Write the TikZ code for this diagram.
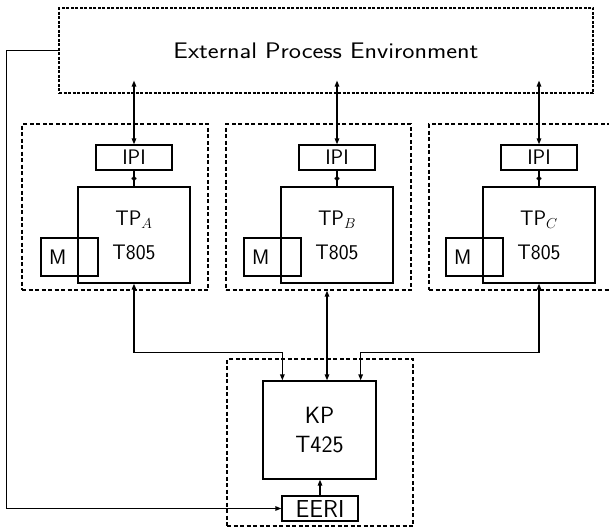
\documentclass[tikz,border=0pt]{standalone}
\usepackage{fontspec}
\usepackage{graphicx}
\usetikzlibrary{arrows.meta,calc}
\tikzset{
  every node/.style={font=\sffamily\fontsize{21}{34}\selectfont},
  box/.style={draw, line width=1.3pt, inner sep=0pt, align=center},
  mbox/.style={draw, line width=1.3pt, inner ysep=0pt, inner xsep=8pt, text width=41pt, align=left, minimum height=38pt},
  cluster/.style={draw, line width=1.1pt, dash pattern=on 4pt off 2.5pt, inner sep=0pt},
  envbox/.style={draw, line width=1.1pt, dash pattern=on 3pt off 1.5pt, inner sep=0pt},
  conn/.style={line width=1.3pt},
  ptr/.tip={Triangle[length=6pt,width=4.5pt]},
  arr/.style={conn,-ptr},
  dbl/.style={conn,ptr-ptr},
  diam/.style={conn,{Triangle[length=4pt,width=5pt]}-{Triangle[length=4pt,width=5pt]},shorten <=4.5pt,shorten >=4.5pt},
}
\begin{document}
\begin{tikzpicture}[x=1pt,y=-1pt]
\useasboundingbox (0,0) rectangle (609,527);
% clusters
\node[cluster, minimum width=186pt, minimum height=166pt] (CA) at (115,207) {};
\node[cluster, minimum width=185pt, minimum height=166pt] (CB) at (318.5,207) {};
\node[cluster, minimum width=190pt, minimum height=166pt] (CC) at (524,207) {};
\node[cluster, minimum width=186pt, minimum height=167pt] (CK) at (320,442.5) {};
% environment
\node[envbox, minimum width=534pt, minimum height=85pt, font=\sffamily\fontsize{22.5}{26}\selectfont] (EPE) at (326,50.5) {\scalebox{1.15}[1]{External Process Environment}};
% transputer groups
\foreach \n/\dx in {A/0,B/203,C/405}{
  \node[box, minimum width=76pt, minimum height=25pt] (IPI\n) at (134+\dx,157.5) {IPI};
  \node[box, minimum width=112pt, minimum height=96pt] (TP\n) at (134+\dx,235) {TP$_{\n}$\\T805};
  \node[mbox] (M\n) at (69.5+\dx,257) {M};
  \draw[dbl] ($(EPE.south -| IPI\n)+(0,-13)$) -- (IPI\n.north);
  \draw[conn] (IPI\n.south) -- (TP\n.north);
  \draw[diam] (IPI\n.south) -- (TP\n.north);
}
% kernel processor
\node[box, minimum width=113pt, minimum height=98pt, font=\sffamily\fontsize{23.5}{29}\selectfont] (KP) at (319.5,430) {KP\\T425};
\node[box, minimum width=76pt, minimum height=25pt, font=\sffamily\fontsize{24.5}{28}\selectfont] (EERI) at (320,508.5) {EERI};
\coordinate (kA) at ($(KP.north west)+(20,0)$);
\coordinate (kC) at ($(KP.north east)+(-16,0)$);
\coordinate (bB) at ($(TPB.south)+(-10,7)$);
\draw[dbl] (TPA.south) -- ++(0,69) -| (kA);
\draw[dbl] (bB) -- (bB |- KP.north);
\draw[dbl] (TPC.south) -- ++(0,69) -| (kC);
\draw[arr] (EERI.north) -- (EERI.north |- KP.south);
\draw[arr] (EPE.west) -- ++(-52,0) |- (EERI.west);
\end{tikzpicture}
\end{document}
